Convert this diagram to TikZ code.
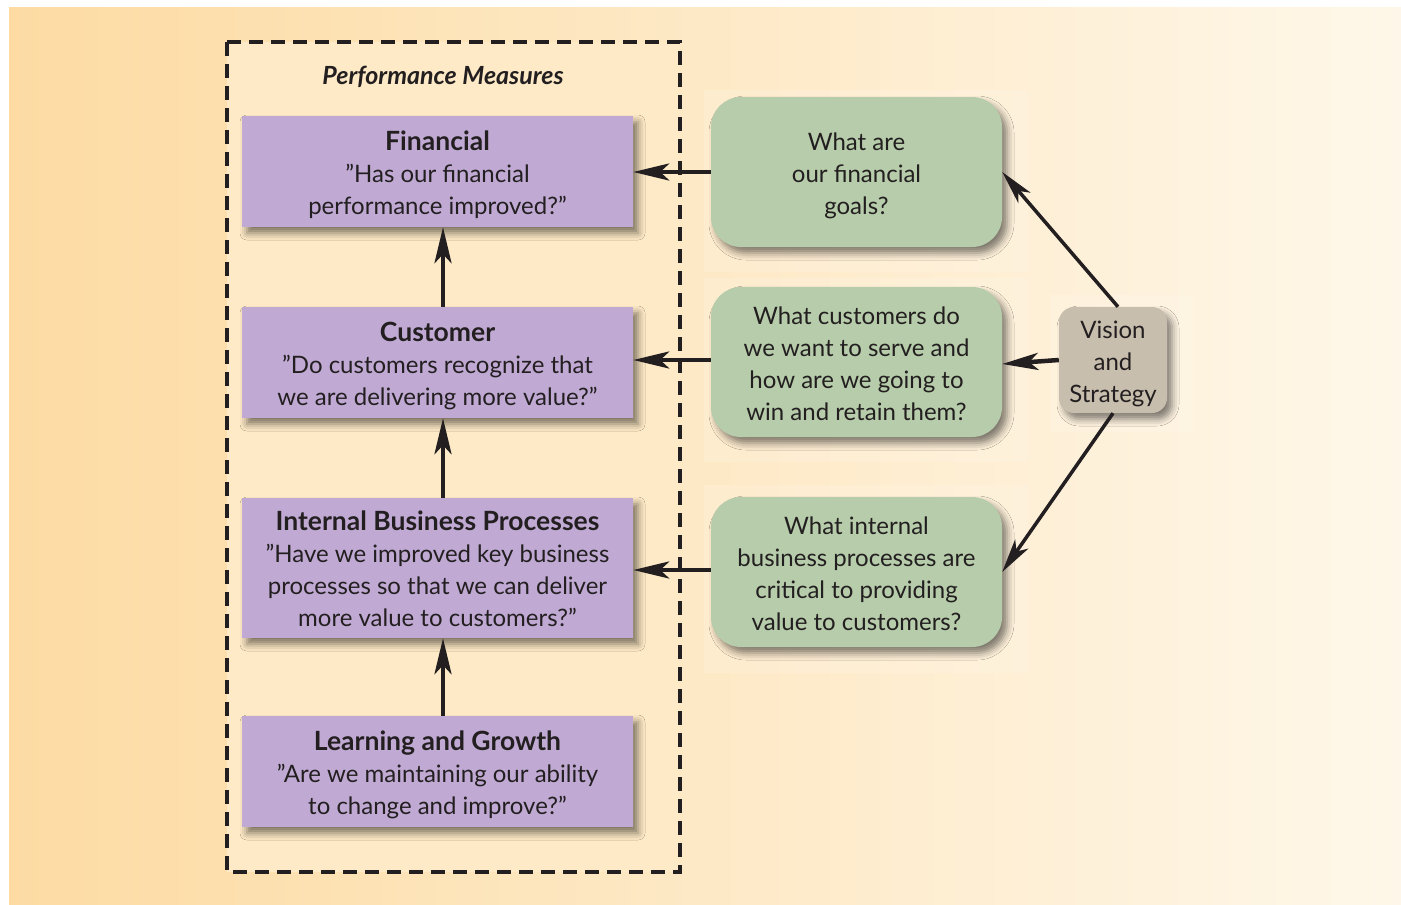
\documentclass[tikz,border=0pt]{standalone}
\usepackage{fontspec}
\setmainfont{Lato}
\usetikzlibrary{arrows.meta,shadows.blur}
\definecolor{bgL}{RGB}{253,219,163}
\definecolor{bgR}{RGB}{254,247,233}
\definecolor{inner}{RGB}{254,234,198}
\definecolor{purp}{RGB}{192,170,212}
\definecolor{grn}{RGB}{182,204,170}
\definecolor{tan}{RGB}{200,190,174}
\definecolor{ink}{RGB}{35,31,32}
\newcommand{\qq}{\char34\relax}
\newcommand{\ttl}[1]{{\fontsize{26.5}{32}\selectfont\bfseries #1}}
\newcommand{\lines}[1]{\raisebox{-4.5pt}[\height][\depth]{\begin{tabular}{@{}c@{}}#1\end{tabular}}}
\tikzset{
  mytext/.style={text=ink,font=\fontsize{24}{32}\selectfont},
  pbox/.style={mytext,fill=purp,minimum width=391pt,minimum height=111pt,inner sep=0pt,
    blur shadow={shadow xshift=5pt,shadow yshift=-6pt,shadow blur radius=7pt,shadow opacity=50}},
  gbox/.style={mytext,fill=grn,minimum width=291pt,minimum height=150pt,inner sep=0pt,rounded corners=30pt,
    blur shadow={shadow xshift=5pt,shadow yshift=-6pt,shadow blur radius=7pt,shadow opacity=50}},
  vbox/.style={mytext,fill=tan,minimum width=108pt,minimum height=106pt,inner sep=0pt,rounded corners=15pt,
    blur shadow={shadow xshift=5pt,shadow yshift=-6pt,shadow blur radius=7pt,shadow opacity=50}},
  conn/.style={draw=ink,line width=4.5pt,-{Stealth[length=36pt,width=17pt,inset=9pt]}},
  dconn/.style={draw=ink,line width=3.5pt,-{Stealth[length=34pt,width=16pt,inset=9pt]}},
  faint/.style={fill=white,fill opacity=0.14,draw=none},
}
\begin{document}
\begin{tikzpicture}[x=1pt,y=-1pt]
\useasboundingbox (0,0) rectangle (1401,905);
\fill[white] (0,0) rectangle (1401,905);
\shade[left color=bgL,right color=bgR] (9,7) rectangle (1401,905);
% dashed frame
\fill[inner] (227,42) rectangle (680,872);
\draw[ink,line width=4.8pt,dash pattern=on 14pt off 8pt] (227,42) rectangle (680,872);
\node[text=ink,font=\fontsize{25}{30}\selectfont\bfseries\itshape] (pm) at (443,77) {Performance Measures};
% faint panels
\path[faint] (704,90) rectangle (1028,272);
\path[faint] (704,278) rectangle (1028,462);
\path[faint] (704,485) rectangle (1028,673);
\path[faint] (1050,295) rectangle (1193,432);
% purple boxes
\node[pbox] (fin) at (437.5,171.5) {\lines{\ttl{Financial}\\\qq Has our financial\\performance improved?\qq}};
\node[pbox] (cus) at (437.5,362.5) {\lines{\ttl{Customer}\\\qq Do customers recognize that\\we are delivering more value?\qq}};
\node[pbox,minimum height=140pt] (ibp) at (437.5,568) {\lines{\ttl{Internal Business Processes}\\\qq Have we improved key business\\processes so that we can deliver\\more value to customers?\qq}};
\node[pbox] (lg) at (437.5,771.5) {\lines{\ttl{Learning and Growth}\\\qq Are we maintaining our ability\\to change and improve?\qq}};
% green boxes
\node[gbox] (g1) at (856.5,172) {\lines{What are\\our financial\\goals?}};
\node[gbox] (g2) at (856.5,362) {\lines{What customers do\\we want to serve and\\how are we going to\\win and retain them?}};
\node[gbox] (g3) at (856.5,572) {\lines{What internal\\business processes are\\critical to providing\\value to customers?}};
% vision
\node[vbox] (vs) at (1113,360) {\lines{Vision\\and\\Strategy}};
% vertical arrows
\draw[conn] ([xshift=5.5pt]cus.north) -- ([xshift=5.5pt]fin.south);
\draw[conn] ([xshift=5.5pt]ibp.north) -- ([xshift=5.5pt]cus.south);
\draw[conn] ([xshift=5.5pt]lg.north) -- ([xshift=5.5pt]ibp.south);
% horizontal arrows
\draw[conn] (g1.west) -- (g1.west -| fin.east);
\draw[conn] ([yshift=2pt]g2.west) -- ([yshift=2pt]g2.west -| cus.east);
\draw[conn] ([yshift=2pt]g3.west) -- ([yshift=2pt]g3.west -| ibp.east);
% vision arrows
\draw[dconn] ([xshift=5pt]vs.north) -- (g1.east);
\draw[conn] (vs.west) -- ([yshift=-2pt]g2.east);
\draw[dconn] (vs.south) -- (g3.east);
\end{tikzpicture}
\end{document}
